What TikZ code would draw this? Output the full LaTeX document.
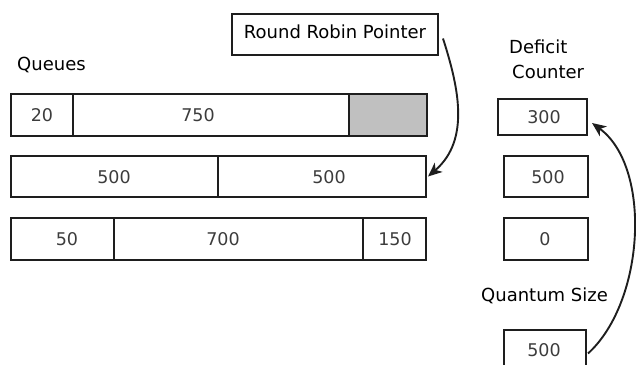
\documentclass[tikz,border=0pt]{standalone}
\usepackage{fontspec}
\setmainfont{DejaVu Sans}
\usetikzlibrary{arrows.meta}
\definecolor{edge}{HTML}{1E1E1E}
\definecolor{numtext}{HTML}{3C3C3C}
\definecolor{pending}{HTML}{C0C0C0}
\begin{document}
\begin{tikzpicture}[x=1pt,y=-1pt,
  cell/.style={draw=edge, line width=1.5pt, inner sep=0pt, outer sep=0pt, anchor=north west},
  num/.style={text=numtext, font=\fontsize{17.5}{20}\selectfont, inner sep=0pt},
  heading/.style={font=\fontsize{18}{21}\selectfont, inner sep=0pt, anchor=base west},
  link/.style={draw=edge, line width=1.9pt, -{Stealth[length=14pt,width=12pt,inset=4pt]}}]
  \useasboundingbox (0,0) rectangle (636,364);
  \clip (0,0) rectangle (636,364);

  % headings
  \node[heading] (hqueues) at (17,70.5) {Queues};
  \node[heading] (hdef) at (509,53.5) {Deficit};
  \node[heading] (hcnt) at (512,78.5) {Counter};
  \node[heading] (hquant) at (481,301.5) {Quantum Size};

  % round robin pointer
  \node[cell, minimum width=206pt, minimum height=41pt] (rr) at (232,14) {};
  \node[heading, anchor=base] (rrtext) at (335,38.5) {Round Robin Pointer};

  % queue 1
  \node[cell, minimum width=62pt, minimum height=42pt] (qa1) at (11,94) {};
  \node[cell, minimum width=276pt, minimum height=42pt] (qa2) at (73,94) {};
  \node[cell, fill=pending, minimum width=78pt, minimum height=42pt] (qa3) at (349,94) {};
  \node[num] (ta1) at (42,115) {20};
  \node[num] (ta2) at (198,115) {750};

  % queue 2
  \node[cell, minimum width=207pt, minimum height=41pt] (qb1) at (11,156) {};
  \node[cell, minimum width=208pt, minimum height=41pt] (qb2) at (218,156) {};
  \node[num] (tb1) at (114,177) {500};
  \node[num] (tb2) at (329,177) {500};

  % queue 3
  \node[cell, minimum width=103pt, minimum height=42pt] (qc1) at (11,218) {};
  \node[cell, minimum width=249pt, minimum height=42pt] (qc2) at (114,218) {};
  \node[cell, minimum width=63pt, minimum height=42pt] (qc3) at (363,218) {};
  \node[num] (tc1) at (67,239) {50};
  \node[num] (tc2) at (223,239) {700};
  \node[num] (tc3) at (395,239) {150};

  % deficit counters
  \node[cell, minimum width=89pt, minimum height=36pt] (dc1) at (498,99) {};
  \node[cell, minimum width=84pt, minimum height=41pt] (dc2) at (504,156) {};
  \node[cell, minimum width=84pt, minimum height=42pt] (dc3) at (504,218) {};
  \node[num] (td1) at (544,117) {300};
  \node[num] (td2) at (548,177) {500};
  \node[num] (td3) at (545,239) {0};

  % quantum size
  \node[cell, minimum width=82pt, minimum height=41pt] (qs) at (504,330) {};
  \node[num] (tqs) at (544,350) {500};

  % pointer arrows
  \draw[link] ([xshift=5pt,yshift=-4pt]rr.east) .. controls +(15,47) and +(43,-37) .. ([xshift=2pt]qb2.east);
  \draw[link] ([xshift=2pt,yshift=-3pt]qs.east) .. controls +(57,-52) and +(60,44) .. ([xshift=5pt,yshift=-6pt]dc1.east);
\end{tikzpicture}
\end{document}
